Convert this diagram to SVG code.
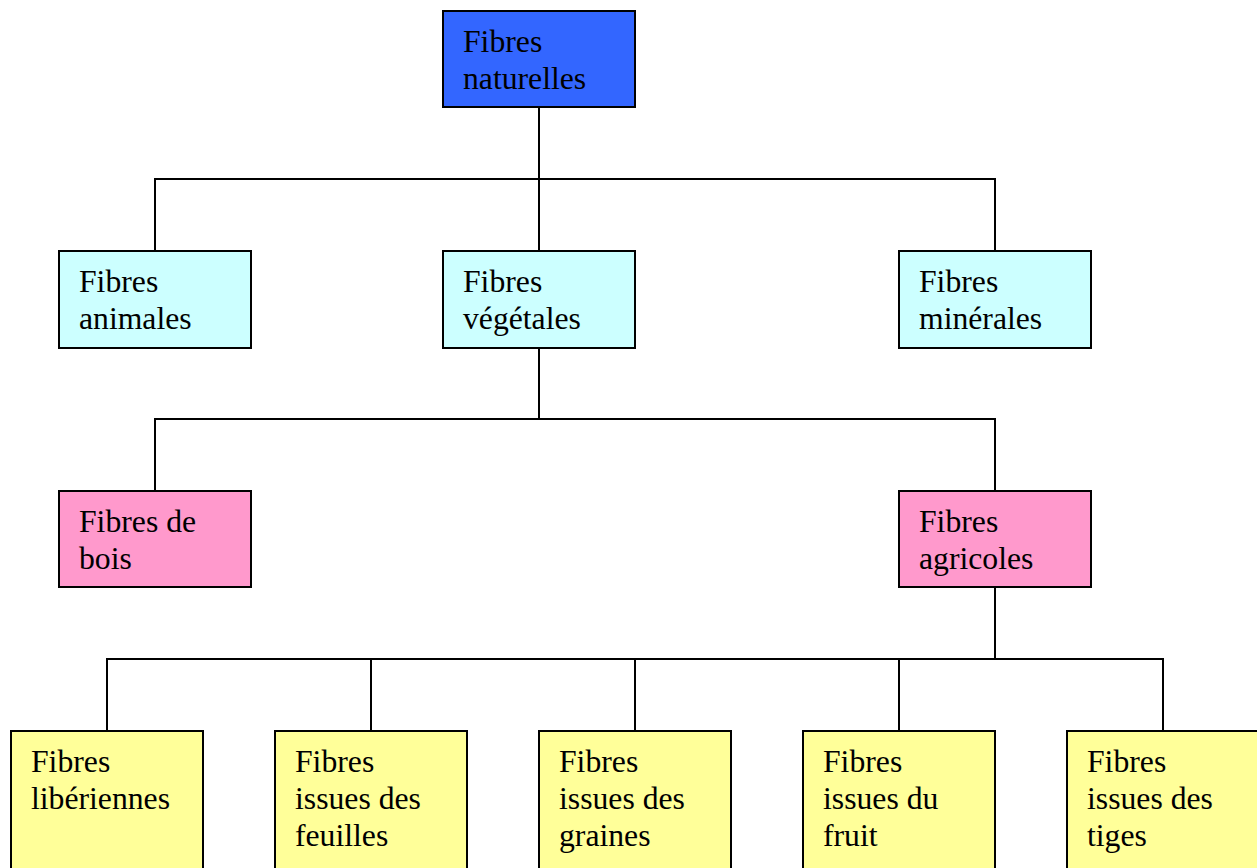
<svg xmlns="http://www.w3.org/2000/svg" width="1257" height="868" viewBox="0 0 1257 868">
<style>
.box{stroke:#000;stroke-width:2}
.blue{fill:#3366FF}
.cyan{fill:#CCFFFF}
.pink{fill:#FF99CC}
.yellow{fill:#FFFF99}
.lbl{font-family:"Liberation Serif","Times New Roman",serif;font-size:31.7px;fill:#000}
.conn{fill:none;stroke:#000;stroke-width:2}
</style>
<rect width="1257" height="868" fill="#fff"/>
<g id="connectors">
<path class="conn" d="M539,107V179M155,251V179H995V251M539,179V251"/>
<path class="conn" d="M539,348V419M155,491V419H995V491"/>
<path class="conn" d="M995,587V659M107,731V659H1163V731M371,659V731M635,659V731M899,659V731"/>
</g>
<g id="n-naturelles"><rect class="box blue" x="443" y="11" width="192" height="96"/><text class="lbl" x="463" y="52">Fibres</text><text class="lbl" x="463" y="89">naturelles</text></g>
<g id="n-animales"><rect class="box cyan" x="59" y="251" width="192" height="97"/><text class="lbl" x="79" y="292">Fibres</text><text class="lbl" x="79" y="329">animales</text></g>
<g id="n-vegetales"><rect class="box cyan" x="443" y="251" width="192" height="97"/><text class="lbl" x="463" y="292">Fibres</text><text class="lbl" x="463" y="329">végétales</text></g>
<g id="n-minerales"><rect class="box cyan" x="899" y="251" width="192" height="97"/><text class="lbl" x="919" y="292">Fibres</text><text class="lbl" x="919" y="329">minérales</text></g>
<g id="n-bois"><rect class="box pink" x="59" y="491" width="192" height="96"/><text class="lbl" x="79" y="532">Fibres de</text><text class="lbl" x="79" y="569">bois</text></g>
<g id="n-agricoles"><rect class="box pink" x="899" y="491" width="192" height="96"/><text class="lbl" x="919" y="532">Fibres</text><text class="lbl" x="919" y="569">agricoles</text></g>
<g id="n-liberiennes"><rect class="box yellow" x="11" y="731" width="192" height="150"/><text class="lbl" x="31" y="772">Fibres</text><text class="lbl" x="31" y="809">libériennes</text></g>
<g id="n-feuilles"><rect class="box yellow" x="275" y="731" width="192" height="150"/><text class="lbl" x="295" y="772">Fibres</text><text class="lbl" x="295" y="809">issues des</text><text class="lbl" x="295" y="846">feuilles</text></g>
<g id="n-graines"><rect class="box yellow" x="539" y="731" width="192" height="150"/><text class="lbl" x="559" y="772">Fibres</text><text class="lbl" x="559" y="809">issues des</text><text class="lbl" x="559" y="846">graines</text></g>
<g id="n-fruit"><rect class="box yellow" x="803" y="731" width="192" height="150"/><text class="lbl" x="823" y="772">Fibres</text><text class="lbl" x="823" y="809">issues du</text><text class="lbl" x="823" y="846">fruit</text></g>
<g id="n-tiges"><rect class="box yellow" x="1067" y="731" width="192" height="150"/><text class="lbl" x="1087" y="772">Fibres</text><text class="lbl" x="1087" y="809">issues des</text><text class="lbl" x="1087" y="846">tiges</text></g>
</svg>
